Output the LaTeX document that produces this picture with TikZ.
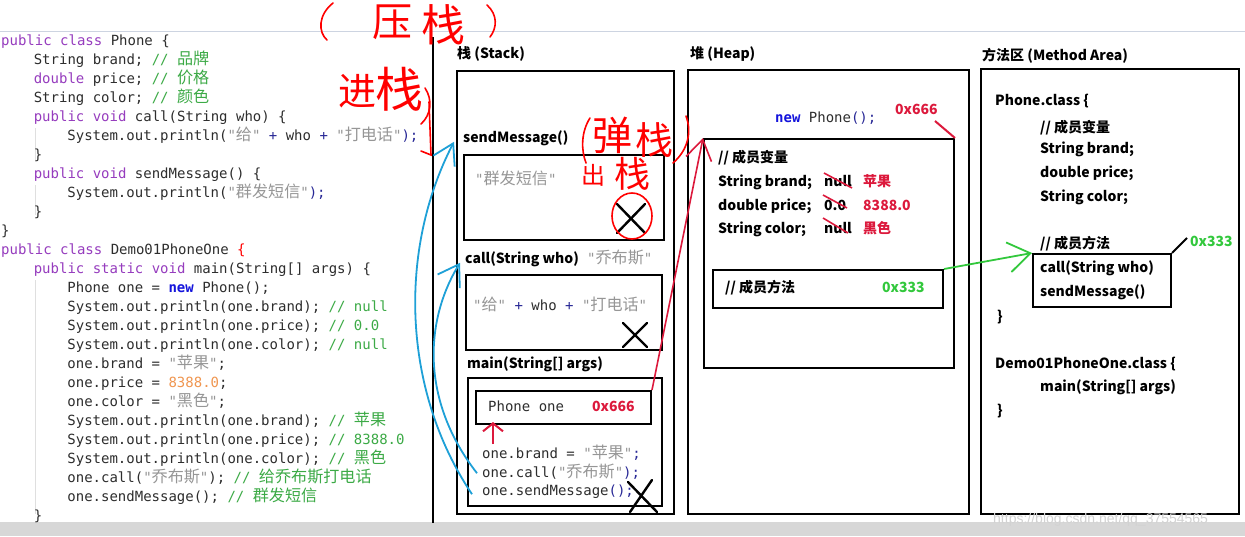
\documentclass[tikz,border=0pt]{standalone}
\usepackage{fontspec}
\setmonofont{DejaVu Sans Mono}
\newfontfamily\cjk{Noto Sans CJK SC}
\newfontfamily\cjkc{Noto Sans CJK SC}[Scale=1.15]
\newfontfamily\wmfont{Liberation Sans}
\usetikzlibrary{arrows.meta}
\definecolor{kwc}{RGB}{150,60,190}
\definecolor{cmc}{RGB}{60,170,70}
\definecolor{strc}{RGB}{150,150,150}
\definecolor{newc}{RGB}{20,20,220}
\definecolor{numc}{RGB}{240,150,80}
\definecolor{txc}{RGB}{45,45,45}
\definecolor{opc}{RGB}{40,40,150}
\definecolor{hand}{RGB}{255,0,0}
\definecolor{addr}{RGB}{220,25,60}
\definecolor{blu}{RGB}{30,160,215}
\definecolor{grn}{RGB}{50,200,60}
\definecolor{topline}{RGB}{205,212,225}
\definecolor{barc}{RGB}{215,215,215}
\newcommand\kw[1]{\textcolor{kwc}{#1}}
\newcommand\cm[1]{\textcolor{cmc}{#1}}
\newcommand\st[1]{\textcolor{strc}{#1}}
\newcommand\op[1]{\textcolor{opc}{#1}}
\newcommand\zh[1]{{\cjkc #1}}
\begin{document}
\begin{tikzpicture}[x=1pt,y=-1pt,
  code/.style={font=\fontsize{14pt}{17pt}\selectfont\ttfamily, text=txc, inner sep=0pt, anchor=base west},
  dg/.style={font=\fontsize{14pt}{17pt}\selectfont\cjk\bfseries, text=black, inner sep=0pt, anchor=base west},
  box/.style={draw=black, line width=2pt, inner sep=0pt, anchor=north west},
  hw/.style={text=hand, inner sep=0pt, anchor=center},
  hline/.style={draw=hand, line width=1.6pt, line cap=round},
  xmark/.style={draw=black, line width=2.4pt, line cap=round},
  guide/.style={draw=gray!25, line width=0.6pt},
  barb/.style={-{Straight Barb[length=20pt,width=26pt]}},
]
\useasboundingbox (0,0) rectangle (1245,536);
\fill[white] (0,0) rectangle (1245,536);
% frame of the screenshot
\draw[topline, line width=1pt] (0,31) -- (1245,31);
\fill[barc] (0,522) rectangle (1245,536);
\draw[black, line width=2pt] (433,37) -- (433,523);
% indent guides
\draw[guide] (35,128) -- (35,160);
\draw[guide] (35,185) -- (35,215);
\draw[guide] (35,280) -- (35,514);
% ---------------- code ----------------
\node[code] (c1)  at (1,45.5)    {\kw{public class} Phone \{};
\node[code] (c2)  at (33.6,64.5) {String brand; \cm{// \zh{品牌}}};
\node[code] (c3)  at (33.6,83.5) {\kw{double} price; \cm{// \zh{价格}}};
\node[code] (c4)  at (33.6,102.5) {String color; \cm{// \zh{颜色}}};
\node[code] (c5)  at (33.6,121.5) {\kw{public void} call(String who) \{};
\node[code] (c6)  at (67.2,140.5) {System.out.println(\st{"\zh{给}"} \op{+} who \op{+} \st{"\zh{打电话}"}\op{);}};
\node[code] (c7)  at (33.6,159.5) {\}};
\node[code] (c8)  at (33.6,178.5) {\kw{public void} sendMessage() \{};
\node[code] (c9)  at (67.2,197.5) {System.out.println(\st{"\zh{群发短信}"}\op{);}};
\node[code] (c10) at (33.6,216.5) {\}};
\node[code] (c11) at (1,235.5)   {\}};
\node[code] (c12) at (1,254.5)   {\kw{public class} Demo01PhoneOne \textcolor{red}{\{}};
\node[code] (c13) at (33.6,273.5) {\kw{public static void} main(String[] args) \{};
\node[code] (c14) at (67.2,292.5) {Phone one = \textcolor{newc}{\bfseries new} Phone();};
\node[code] (c15) at (67.2,311.5) {System.out.println(one.brand); \cm{// null}};
\node[code] (c16) at (67.2,330.5) {System.out.println(one.price); \cm{// 0.0}};
\node[code] (c17) at (67.2,349.5) {System.out.println(one.color); \cm{// null}};
\node[code] (c18) at (67.2,368.5) {one.brand = \st{"\zh{苹果}"};};
\node[code] (c19) at (67.2,387.5) {one.price = \textcolor{numc}{8388.0};};
\node[code] (c20) at (67.2,406.5) {one.color = \st{"\zh{黑色}"};};
\node[code] (c21) at (67.2,425.5) {System.out.println(one.brand); \cm{// \zh{苹果}}};
\node[code] (c22) at (67.2,444.5) {System.out.println(one.price); \cm{// 8388.0}};
\node[code] (c23) at (67.2,463.5) {System.out.println(one.color); \cm{// \zh{黑色}}};
\node[code] (c24) at (67.2,482.5) {one.call(\st{"\zh{乔布斯}"}); \cm{// \zh{给乔布斯打电话}}};
\node[code] (c25) at (67.2,501.5) {one.sendMessage(); \cm{// \zh{群发短信}}};
\node[code] (c26) at (33.6,520.5) {\}};
% ---------------- stack ----------------
\node[dg] (stitle) at (457,58) {栈 (Stack)};
\node[box, minimum width=217pt, minimum height=443pt] (stack) at (456,70) {};
\node[dg] (sendlbl) at (463,142) {sendMessage()};
\node[box, minimum width=200pt, minimum height=85pt] (sendbox) at (463,154) {};
\node[code] (sendtxt) at (475,184) {\st{"\zh{群发短信}"}};
\node[dg] (calllbl) at (465,263) {call(String who)};
\node[code] (callarg) at (587,263) {\st{"\zh{乔布斯}"}};
\node[box, minimum width=196pt, minimum height=75pt] (callbox) at (465,274) {};
\node[code] (calltxt) at (473,310) {\st{"\zh{给}"} \op{+} who \op{+} \st{"\zh{打电话}"}};
\node[dg] (mainlbl) at (467,368) {main(String[] args)};
\node[box, minimum width=194pt, minimum height=128pt] (mainbox) at (467,377) {};
\node[box, minimum width=175pt, minimum height=33pt] (phone) at (475,390) {};
\node[code] (phonetxt) at (488,411) {Phone one};
\node[dg, text=addr] (addr1) at (592,411) {0x666};
\node[code] (s1) at (482,458) {one.brand = \st{"\zh{苹果}"}\op{;}};
\node[code] (s2) at (482,477) {one.call(\st{"\zh{乔布斯}"}\op{);}};
\node[code] (s3) at (482,495) {one.sendMessage\op{();}};
\draw[xmark] (617,204) -- (645,233) (645,204) -- (617,233);
\draw[xmark] (623,323) -- (647,347) (647,323) -- (623,347);
\draw[xmark] (628,482) -- (657,512) (652,480) -- (630,512);
\draw[draw=addr, line width=2pt, -{Straight Barb[length=8pt,width=20pt]}] (493,444) -- (493,422);
% ---------------- heap ----------------
\node[dg] (htitle) at (690,58) {堆 (Heap)};
\node[box, minimum width=281pt, minimum height=444pt] (heap) at (687,69) {};
\node[code] (newtxt) at (775,122) {\textcolor{newc}{\bfseries new} Phone\op{();}};
\node[dg, text=addr] (addr2) at (895,114) {0x666};
\node[box, minimum width=250pt, minimum height=229pt] (heapin) at (703,138) {};
\draw[draw=addr, line width=2pt] (935,121) -- (heapin.north east);
\node[dg] (hv0) at (718,162) {// 成员变量};
\node[dg] (hv1) at (718,186) {String brand;};
\node[dg] (hv1a) at (824,186) {null};
\node[dg, text=addr] (hv1b) at (863,186) {苹果};
\node[dg] (hv2) at (718,210) {double price;};
\node[dg] (hv2a) at (824,210) {0.0};
\node[dg, text=addr] (hv2b) at (863,210) {8388.0};
\node[dg] (hv3) at (718,233) {String color;};
\node[dg] (hv3a) at (824,233) {null};
\node[dg, text=addr] (hv3b) at (863,233) {黑色};
\draw[draw=addr, line width=1.6pt] (824,173) -- (852,188);
\draw[draw=addr, line width=1.6pt] (823,195) -- (847,208);
\draw[draw=addr, line width=1.6pt] (823,218) -- (848,233);
\node[box, minimum width=230pt, minimum height=38pt] (memm) at (712,269) {};
\node[dg] (memmtxt) at (725,292) {// 成员方法};
\node[dg, text=grn] (addr3) at (882,292) {0x333};
% ---------------- method area ----------------
\node[dg] (mtitle) at (982,60) {方法区 (Method Area)};
\node[box, minimum width=258pt, minimum height=445pt] (marea) at (980,68) {};
\node[dg] (m1) at (995,105) {Phone.class \{};
\node[dg] (m2) at (1040,132) {// 成员变量};
\node[dg] (m3) at (1040,153) {String brand;};
\node[dg] (m4) at (1040,177) {double price;};
\node[dg] (m5) at (1040,201) {String color;};
\node[dg] (m6) at (1040,248) {// 成员方法};
\node[box, minimum width=138pt, minimum height=53pt] (mmeth) at (1032,253) {};
\node[dg] (m7) at (1040,272) {call(String who)};
\node[dg] (m8) at (1040,296) {sendMessage()};
\node[dg] (m9) at (997,321) {\}};
\node[dg] (m10) at (995,368) {Demo01PhoneOne.class \{};
\node[dg] (m11) at (1040,391) {main(String[] args)};
\node[dg] (m12) at (997,415) {\}};
\node[dg, text=grn] (addr4) at (1190,246) {0x333};
\draw[black, line width=2pt] (mmeth.north east) -- (1187,238);
% ---------------- connectors ----------------
\draw[draw=grn, line width=1.8pt, -{Straight Barb[length=22pt,width=30pt]}] (memm.north east) -- (mmeth.north west);
\draw[draw=addr, line width=1.6pt, barb] (phone.north east) -- (heapin.north west);
\draw[draw=blu, line width=1.8pt, -{Straight Barb[length=20pt,width=24pt]}]
  ([xshift=-10pt,yshift=-3pt]s3.west) .. controls (402,390) and (398,250) .. ([xshift=-9pt,yshift=-4pt]sendlbl.west);
\draw[draw=blu, line width=1.8pt, -{Straight Barb[length=20pt,width=26pt]}]
  ([xshift=-5pt,yshift=-2pt]s2.west) .. controls (420,400) and (425,320) .. ([xshift=-5pt,yshift=-4pt]calllbl.west);
% ---------------- handwriting ----------------
\draw[hline] (333,3) .. controls (318,15) and (318,32) .. (327,40);
\node[hw, font=\fontsize{40pt}{40pt}\selectfont\cjk] (hwya) at (392,22) {压};
\node[hw, font=\fontsize{44pt}{44pt}\selectfont\cjk] (hwz1) at (443,25) {栈};
\draw[hline] (487,5) .. controls (498,15) and (497,28) .. (490,37);
\node[hw, font=\fontsize{38pt}{38pt}\selectfont\cjk] (hwjin) at (357,91) {进};
\node[hw, font=\fontsize{48pt}{48pt}\selectfont\cjk] (hwz2) at (399,89) {栈};
\draw[hline] (425,88) .. controls (433,100) and (431,115) .. (421,124);
\draw[hline] (429,102) -- (431,155) -- (421,151);
\draw[hline] (590,118) .. controls (581,132) and (581,150) .. (586,163);
\node[hw, font=\fontsize{40pt}{40pt}\selectfont\cjk] (hwdan) at (612,135) {弹};
\node[hw, font=\fontsize{38pt}{38pt}\selectfont\cjk] (hwz3) at (654,140) {栈};
\draw[hline] (686,116) .. controls (692,132) and (688,150) .. (673,163);
\node[hw, font=\fontsize{24pt}{24pt}\selectfont\cjk] (hwchu) at (593,175) {出};
\node[hw, font=\fontsize{36pt}{36pt}\selectfont\cjk] (hwz4) at (632,174) {栈};
\draw[hline] (632,216) ellipse [x radius=20, y radius=23];
% watermark
\node[font=\fontsize{14pt}{16pt}\selectfont\wmfont, text=gray!35, anchor=base west, inner sep=0pt] (wm) at (993,523) {https://blog.csdn.net/qq\_37554565};
\end{tikzpicture}
\end{document}
